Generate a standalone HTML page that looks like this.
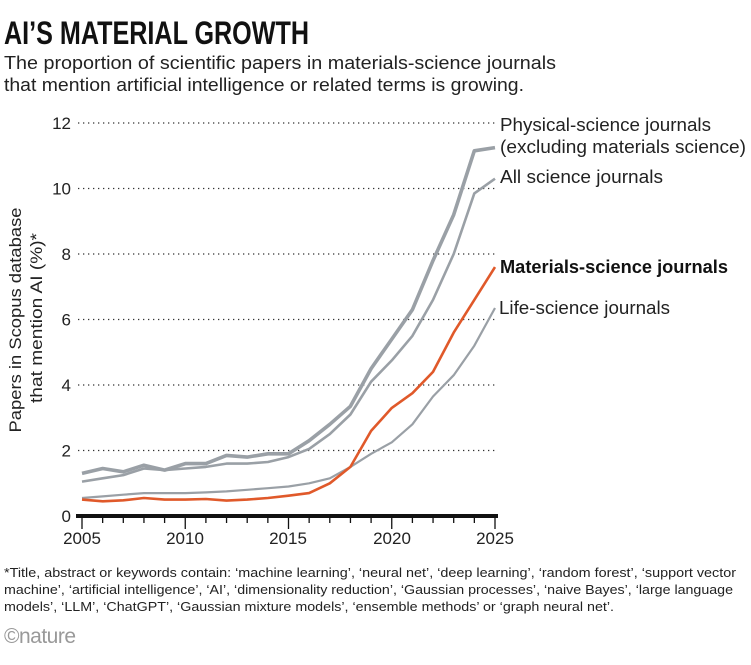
<!DOCTYPE html>
<html><head><meta charset="utf-8"><style>
body{margin:0;background:#fff;width:751px;height:660px;overflow:hidden;font-family:"Liberation Sans",sans-serif;color:#222}
svg text{font-family:"Liberation Sans",sans-serif}
</style></head><body>
<svg id="s" width="751" height="660" xmlns="http://www.w3.org/2000/svg">
<text x="4" y="44" font-size="32" font-weight="bold" fill="#111" textLength="305" lengthAdjust="spacingAndGlyphs">AI’S MATERIAL GROWTH</text>
<text x="4" y="69" font-size="18" fill="#222" textLength="552" lengthAdjust="spacingAndGlyphs">The proportion of scientific papers in materials-science journals</text>
<text x="4" y="91" font-size="18" fill="#222" textLength="520" lengthAdjust="spacingAndGlyphs">that mention artificial intelligence or related terms is growing.</text>
<g id="grid" stroke="#333" stroke-width="1.3" stroke-dasharray="1.3 3.7"></g>
<g id="yl" font-size="17" fill="#222" text-anchor="end"></g>
<text transform="translate(21,320) rotate(-90)" font-size="17" text-anchor="middle" fill="#222" textLength="225" lengthAdjust="spacingAndGlyphs">Papers in Scopus database</text>
<text transform="translate(42,318) rotate(-90)" font-size="17" text-anchor="middle" fill="#222" textLength="170" lengthAdjust="spacingAndGlyphs">that mention AI (%)*</text>
<line x1="76" y1="516" x2="498" y2="516" stroke="#111" stroke-width="4"/>
<g id="tk" stroke="#111" stroke-width="1.3"></g>
<g font-size="17" fill="#222" text-anchor="middle">
<text x="82" y="544">2005</text><text x="185" y="544">2010</text><text x="288" y="544">2015</text><text x="392" y="544">2020</text><text x="495" y="544">2025</text></g>
<g id="lines" fill="none" stroke-linejoin="round"></g>
<g font-size="18" fill="#222" lengthAdjust="spacingAndGlyphs">
<text x="500" y="131" textLength="211" lengthAdjust="spacingAndGlyphs">Physical-science journals</text>
<text x="500" y="153" textLength="246" lengthAdjust="spacingAndGlyphs">(excluding materials science)</text>
<text x="500" y="183" textLength="163" lengthAdjust="spacingAndGlyphs">All science journals</text>
<text x="500" y="273" font-weight="bold" fill="#111" textLength="228" lengthAdjust="spacingAndGlyphs">Materials-science journals</text>
<text x="499" y="314" textLength="171" lengthAdjust="spacingAndGlyphs">Life-science journals</text>
</g>
<g font-size="12.5" fill="#222">
<text x="4" y="577" textLength="732" lengthAdjust="spacingAndGlyphs">*Title, abstract or keywords contain: ‘machine learning’, ‘neural net’, ‘deep learning’, ‘random forest’, ‘support vector</text>
<text x="4" y="594" textLength="729" lengthAdjust="spacingAndGlyphs">machine’, ‘artificial intelligence’, ‘AI’, ‘dimensionality reduction’, ‘Gaussian processes’, ‘naive Bayes’, ‘large language</text>
<text x="4" y="611" textLength="610" lengthAdjust="spacingAndGlyphs">models’, ‘LLM’, ‘ChatGPT’, ‘Gaussian mixture models’, ‘ensemble methods’ or ‘graph neural net’.</text>
</g>
<text x="4" y="643" font-size="21" fill="#999" font-family="Liberation Serif" style="letter-spacing:-0.5px">©nature</text>
</svg>
<script>
var ns="http://www.w3.org/2000/svg";
function el(p,t,a,txt){var e=document.createElementNS(ns,t);for(var k in a)e.setAttribute(k,a[k]);if(txt!=null)e.textContent=txt;document.getElementById(p).appendChild(e);}
function X(i){return 82+i*20.65}function Y(v){return 516-v*32.75}
for(var v=2;v<=12;v+=2){el("grid","line",{x1:78,x2:497,y1:Y(v),y2:Y(v)});}
for(var v=0;v<=12;v+=2){el("yl","text",{x:71,y:Y(v)+6},v);}
for(var i=0;i<=20;i++){el("tk","line",{x1:X(i),x2:X(i),y1:516,y2:i%5==0?529:523});}
var D=[
["#9aa0a6",2.2,[0.55,0.6,0.65,0.7,0.7,0.7,0.72,0.75,0.8,0.85,0.9,1.0,1.15,1.5,1.9,2.25,2.8,3.65,4.3,5.2,6.35]],
["#9aa0a6",2.6,[1.05,1.15,1.25,1.45,1.4,1.45,1.5,1.6,1.6,1.65,1.8,2.05,2.5,3.1,4.1,4.75,5.5,6.6,8.0,9.85,10.3]],
["#9aa0a6",3.6,[1.3,1.45,1.35,1.55,1.4,1.6,1.6,1.85,1.8,1.9,1.9,2.3,2.8,3.35,4.5,5.4,6.3,7.8,9.2,11.15,11.25]],
["#e0592a",2.6,[0.5,0.45,0.48,0.55,0.5,0.5,0.52,0.47,0.5,0.55,0.62,0.7,1.0,1.5,2.6,3.3,3.75,4.4,5.6,6.6,7.6]]];
D.forEach(function(d){var p=d[2].map(function(v,i){return X(i).toFixed(1)+","+Y(v).toFixed(1)}).join(" ");el("lines","polyline",{points:p,stroke:d[0],"stroke-width":d[1]});});
</script>
</body></html>
